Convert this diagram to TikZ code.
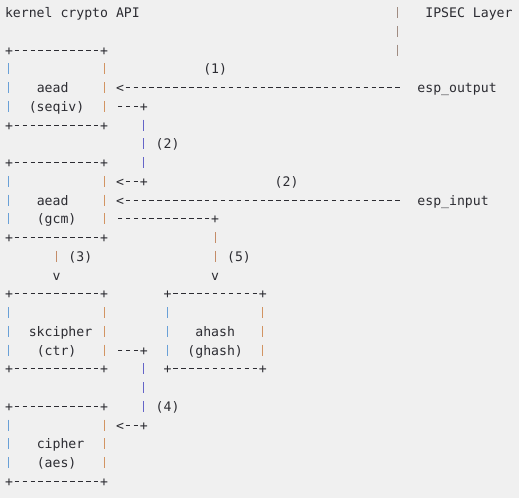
\documentclass[tikz,border=0pt]{standalone}
\usepackage{fontspec}
\usepackage{tikz}
\newfontfamily\asciifont{DejaVu Sans Mono}
\definecolor{ink}{RGB}{44,44,50}
\definecolor{paper}{RGB}{240,240,240}
\definecolor{leftbar}{RGB}{105,160,215}
\definecolor{rightbar}{RGB}{210,148,98}
\definecolor{linkbar}{RGB}{100,100,200}
\definecolor{arrowbar}{RGB}{196,140,104}
\definecolor{layerbar}{RGB}{160,140,130}

\begin{document}
\begin{tikzpicture}[x=7.93pt, y=-18.75pt,
  every node/.style={font=\asciifont\fontsize{13.17pt}{18.75pt}\selectfont, text=ink, inner sep=0pt, outer sep=0pt},
  word/.style={anchor=base west},
  glyph/.style={anchor=base, text height=10pt, text depth=0pt},
  hdash/.style={draw=ink, line width=0.9pt, dash pattern=on 4.5pt off 3.43pt, dash phase=6.215pt, shorten <=3.965pt, shorten >=3.965pt},
  vbar/.style={draw=leftbar, line width=1pt, dash pattern=on 11pt off 7.75pt, dash phase=14.875pt, shorten <=9.375pt, shorten >=9.375pt}]
\fill[paper] (0pt,0pt) rectangle (519pt,-498pt);
\useasboundingbox (0pt,0pt) rectangle (519pt,-498pt);
\begin{scope}[shift={(5.03pt,-17.5pt)}]
% heading and layer divider
\node[word] (kernel) at (0,0) {kernel crypto API};
\node[word] (ipsec) at (53,0) {IPSEC Layer};
\draw[vbar, draw=layerbar, shorten <=0pt, shorten >=0pt] (49.5,-0.7667) -- (49.5,2.2333);

% box corners and borders
\foreach \b/\x/\y in {seqiv/0/2, gcm/0/8, ctr/0/15, ghash/20/15, aes/0/21} {
  \node[glyph] (\b-nw) at ({\x+0.5},\y) {+};
  \node[glyph] (\b-ne) at ({\x+12.5},\y) {+};
  \node[glyph] (\b-sw) at ({\x+0.5},{\y+4}) {+};
  \node[glyph] (\b-se) at ({\x+12.5},{\y+4}) {+};
  \draw[hdash] (\b-nw.center) -- (\b-ne.center);
  \draw[hdash] (\b-sw.center) -- (\b-se.center);
  \draw[vbar, draw=leftbar] (\b-nw.center) -- (\b-sw.center);
  \draw[vbar, draw=rightbar] (\b-ne.center) -- (\b-se.center);
}

% box texts
\node[word] (seqiv-a) at (4,4) {aead};
\node[word] (seqiv) at (3,5) {(seqiv)};
\node[word] (gcm-a) at (4,10) {aead};
\node[word] (gcm) at (4,11) {(gcm)};
\node[word] (ctr-a) at (3,17) {skcipher};
\node[word] (ctr) at (4,18) {(ctr)};
\node[word] (ghash-a) at (24,17) {ahash};
\node[word] (ghash) at (23,18) {(ghash)};
\node[word] (aes-a) at (4,23) {cipher};
\node[word] (aes) at (4,24) {(aes)};

% esp_output -> aead (seqiv)
\node[word] (tag-1) at (25,3) {(1)};
\node[glyph] (out-tip) at (14.5,4) {<};
\node[word] (esp-out) at (52,4) {esp\_output};
\draw[hdash, shorten >=15.86pt] (out-tip.center) -- (out-tip.center -| esp-out.west);

% aead (seqiv) -> aead (gcm)
\node[glyph] (seqiv-turn) at (17.5,5) {+};
\node[glyph] (gcm-turn) at (17.5,9) {+};
\node[glyph] (gcm-tip) at (14.5,9) {<};
\node[word] (tag-2a) at (19,7) {(2)};
\draw[hdash, shorten >=11.895pt] (seqiv-turn.center) -- (seqiv-turn.center -| seqiv-ne.center);
\draw[vbar, draw=linkbar] (seqiv-turn.center) -- (gcm-turn.center);
\draw[hdash] (gcm-tip.center) -- (gcm-turn.center);

% esp_input -> aead (gcm)
\node[word] (tag-2b) at (34,9) {(2)};
\node[glyph] (in-tip) at (14.5,10) {<};
\node[word] (esp-in) at (52,10) {esp\_input};
\draw[hdash, shorten >=15.86pt] (in-tip.center) -- (in-tip.center -| esp-in.west);

% aead (gcm) -> skcipher (ctr)
\node[glyph] (ctr-tip) at (6.5,14) {v};
\node[word] (tag-3) at (8,13) {(3)};
\draw[vbar, draw=arrowbar] (ctr-tip.center |- gcm-sw.center) -- (ctr-tip.center);

% aead (gcm) -> ahash (ghash)
\node[glyph] (hash-turn) at (26.5,11) {+};
\node[glyph] (ghash-tip) at (26.5,14) {v};
\node[word] (tag-5) at (28,13) {(5)};
\draw[hdash, shorten >=11.895pt] (hash-turn.center) -- (hash-turn.center -| gcm-ne.center);
\draw[vbar, draw=arrowbar] (hash-turn.center) -- (ghash-tip.center);

% skcipher (ctr) -> cipher (aes)
\node[glyph] (ctr-turn) at (17.5,18) {+};
\node[glyph] (aes-turn) at (17.5,22) {+};
\node[glyph] (aes-tip) at (14.5,22) {<};
\node[word] (tag-4) at (19,21) {(4)};
\draw[hdash, shorten >=11.895pt] (ctr-turn.center) -- (ctr-turn.center -| ctr-ne.center);
\draw[vbar, draw=linkbar] (ctr-turn.center) -- (aes-turn.center);
\draw[hdash] (aes-tip.center) -- (aes-turn.center);
\end{scope}
\end{tikzpicture}
\end{document}
